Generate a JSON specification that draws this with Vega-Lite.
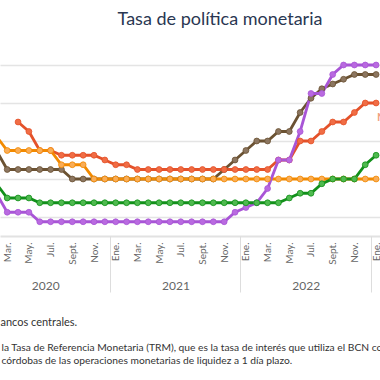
{
  "$schema": "https://vega.github.io/schema/vega-lite/v6.json",
  "width": 380,
  "height": 190,
  "autosize": {"type": "none"},
  "padding": {"left": 0, "top": 46, "right": 0, "bottom": 144},
  "background": "white",
  "title": {"text": "Tasa de política monetaria", "font": "Lato", "fontSize": 18, "fontWeight": "normal", "color": "#2a3752", "anchor": "middle", "frame": "group", "dx": 30, "offset": 3, "baseline": "alphabetic"},
  "config": {"view": {"stroke": null}, "font": "Lato"},
  "data": {"values": [
    {"pais":"República Dominicana","mes":0,"tasa":4.5},{"pais":"República Dominicana","mes":1,"tasa":4.5},
    {"pais":"República Dominicana","mes":2,"tasa":3.5},{"pais":"República Dominicana","mes":3,"tasa":3.5},
    {"pais":"República Dominicana","mes":4,"tasa":3.5},{"pais":"República Dominicana","mes":5,"tasa":3.5},
    {"pais":"República Dominicana","mes":6,"tasa":3.5},{"pais":"República Dominicana","mes":7,"tasa":3.5},
    {"pais":"República Dominicana","mes":8,"tasa":3.0},{"pais":"República Dominicana","mes":9,"tasa":3.0},
    {"pais":"República Dominicana","mes":10,"tasa":3.0},{"pais":"República Dominicana","mes":11,"tasa":3.0},
    {"pais":"República Dominicana","mes":12,"tasa":3.0},{"pais":"República Dominicana","mes":13,"tasa":3.0},
    {"pais":"República Dominicana","mes":14,"tasa":3.0},{"pais":"República Dominicana","mes":15,"tasa":3.0},
    {"pais":"República Dominicana","mes":16,"tasa":3.0},{"pais":"República Dominicana","mes":17,"tasa":3.0},
    {"pais":"República Dominicana","mes":18,"tasa":3.0},{"pais":"República Dominicana","mes":19,"tasa":3.0},
    {"pais":"República Dominicana","mes":20,"tasa":3.0},{"pais":"República Dominicana","mes":21,"tasa":3.0},
    {"pais":"República Dominicana","mes":22,"tasa":3.5},{"pais":"República Dominicana","mes":23,"tasa":4.0},
    {"pais":"República Dominicana","mes":24,"tasa":4.5},{"pais":"República Dominicana","mes":25,"tasa":5.0},
    {"pais":"República Dominicana","mes":26,"tasa":5.0},{"pais":"República Dominicana","mes":27,"tasa":5.5},
    {"pais":"República Dominicana","mes":28,"tasa":5.5},{"pais":"República Dominicana","mes":29,"tasa":6.5},
    {"pais":"República Dominicana","mes":30,"tasa":7.25},{"pais":"República Dominicana","mes":31,"tasa":7.75},
    {"pais":"República Dominicana","mes":32,"tasa":8.0},{"pais":"República Dominicana","mes":33,"tasa":8.25},
    {"pais":"República Dominicana","mes":34,"tasa":8.5},{"pais":"República Dominicana","mes":35,"tasa":8.5},
    {"pais":"República Dominicana","mes":36,"tasa":8.5},

    {"pais":"Nicaragua","mes":3,"tasa":6.0},{"pais":"Nicaragua","mes":4,"tasa":5.5},
    {"pais":"Nicaragua","mes":5,"tasa":4.5},{"pais":"Nicaragua","mes":6,"tasa":4.5},
    {"pais":"Nicaragua","mes":7,"tasa":4.25},{"pais":"Nicaragua","mes":8,"tasa":4.25},
    {"pais":"Nicaragua","mes":9,"tasa":4.25},{"pais":"Nicaragua","mes":10,"tasa":4.25},
    {"pais":"Nicaragua","mes":11,"tasa":4.0},{"pais":"Nicaragua","mes":12,"tasa":3.75},
    {"pais":"Nicaragua","mes":13,"tasa":3.75},{"pais":"Nicaragua","mes":14,"tasa":3.5},
    {"pais":"Nicaragua","mes":15,"tasa":3.5},{"pais":"Nicaragua","mes":16,"tasa":3.5},
    {"pais":"Nicaragua","mes":17,"tasa":3.5},{"pais":"Nicaragua","mes":18,"tasa":3.5},
    {"pais":"Nicaragua","mes":19,"tasa":3.5},{"pais":"Nicaragua","mes":20,"tasa":3.5},
    {"pais":"Nicaragua","mes":21,"tasa":3.5},{"pais":"Nicaragua","mes":22,"tasa":3.5},
    {"pais":"Nicaragua","mes":23,"tasa":3.5},{"pais":"Nicaragua","mes":24,"tasa":3.5},
    {"pais":"Nicaragua","mes":25,"tasa":3.5},{"pais":"Nicaragua","mes":26,"tasa":3.5},
    {"pais":"Nicaragua","mes":27,"tasa":4.0},{"pais":"Nicaragua","mes":28,"tasa":4.0},
    {"pais":"Nicaragua","mes":29,"tasa":5.0},{"pais":"Nicaragua","mes":30,"tasa":5.0},
    {"pais":"Nicaragua","mes":31,"tasa":5.5},{"pais":"Nicaragua","mes":32,"tasa":6.0},
    {"pais":"Nicaragua","mes":33,"tasa":6.0},{"pais":"Nicaragua","mes":34,"tasa":6.5},
    {"pais":"Nicaragua","mes":35,"tasa":7.0},{"pais":"Nicaragua","mes":36,"tasa":7.0},

    {"pais":"Honduras","mes":0,"tasa":5.25},{"pais":"Honduras","mes":1,"tasa":5.25},
    {"pais":"Honduras","mes":2,"tasa":4.5},{"pais":"Honduras","mes":3,"tasa":4.5},
    {"pais":"Honduras","mes":4,"tasa":4.5},{"pais":"Honduras","mes":5,"tasa":4.5},
    {"pais":"Honduras","mes":6,"tasa":4.5},{"pais":"Honduras","mes":7,"tasa":3.75},
    {"pais":"Honduras","mes":8,"tasa":3.75},{"pais":"Honduras","mes":9,"tasa":3.75},
    {"pais":"Honduras","mes":10,"tasa":3.0},{"pais":"Honduras","mes":11,"tasa":3.0},
    {"pais":"Honduras","mes":12,"tasa":3.0},{"pais":"Honduras","mes":13,"tasa":3.0},
    {"pais":"Honduras","mes":14,"tasa":3.0},{"pais":"Honduras","mes":15,"tasa":3.0},
    {"pais":"Honduras","mes":16,"tasa":3.0},{"pais":"Honduras","mes":17,"tasa":3.0},
    {"pais":"Honduras","mes":18,"tasa":3.0},{"pais":"Honduras","mes":19,"tasa":3.0},
    {"pais":"Honduras","mes":20,"tasa":3.0},{"pais":"Honduras","mes":21,"tasa":3.0},
    {"pais":"Honduras","mes":22,"tasa":3.0},{"pais":"Honduras","mes":23,"tasa":3.0},
    {"pais":"Honduras","mes":24,"tasa":3.0},{"pais":"Honduras","mes":25,"tasa":3.0},
    {"pais":"Honduras","mes":26,"tasa":3.0},{"pais":"Honduras","mes":27,"tasa":3.0},
    {"pais":"Honduras","mes":28,"tasa":3.0},{"pais":"Honduras","mes":29,"tasa":3.0},
    {"pais":"Honduras","mes":30,"tasa":3.0},{"pais":"Honduras","mes":31,"tasa":3.0},
    {"pais":"Honduras","mes":32,"tasa":3.0},{"pais":"Honduras","mes":33,"tasa":3.0},
    {"pais":"Honduras","mes":34,"tasa":3.0},{"pais":"Honduras","mes":35,"tasa":3.0},
    {"pais":"Honduras","mes":36,"tasa":3.0},

    {"pais":"Costa Rica","mes":0,"tasa":2.25},{"pais":"Costa Rica","mes":1,"tasa":2.25},
    {"pais":"Costa Rica","mes":2,"tasa":1.25},{"pais":"Costa Rica","mes":3,"tasa":1.25},
    {"pais":"Costa Rica","mes":4,"tasa":1.25},{"pais":"Costa Rica","mes":5,"tasa":0.75},
    {"pais":"Costa Rica","mes":6,"tasa":0.75},{"pais":"Costa Rica","mes":7,"tasa":0.75},
    {"pais":"Costa Rica","mes":8,"tasa":0.75},{"pais":"Costa Rica","mes":9,"tasa":0.75},
    {"pais":"Costa Rica","mes":10,"tasa":0.75},{"pais":"Costa Rica","mes":11,"tasa":0.75},
    {"pais":"Costa Rica","mes":12,"tasa":0.75},{"pais":"Costa Rica","mes":13,"tasa":0.75},
    {"pais":"Costa Rica","mes":14,"tasa":0.75},{"pais":"Costa Rica","mes":15,"tasa":0.75},
    {"pais":"Costa Rica","mes":16,"tasa":0.75},{"pais":"Costa Rica","mes":17,"tasa":0.75},
    {"pais":"Costa Rica","mes":18,"tasa":0.75},{"pais":"Costa Rica","mes":19,"tasa":0.75},
    {"pais":"Costa Rica","mes":20,"tasa":0.75},{"pais":"Costa Rica","mes":21,"tasa":0.75},
    {"pais":"Costa Rica","mes":22,"tasa":0.75},{"pais":"Costa Rica","mes":23,"tasa":1.25},
    {"pais":"Costa Rica","mes":24,"tasa":1.5},{"pais":"Costa Rica","mes":25,"tasa":1.75},
    {"pais":"Costa Rica","mes":26,"tasa":2.5},{"pais":"Costa Rica","mes":27,"tasa":4.0},
    {"pais":"Costa Rica","mes":28,"tasa":4.0},{"pais":"Costa Rica","mes":29,"tasa":5.5},
    {"pais":"Costa Rica","mes":30,"tasa":7.5},{"pais":"Costa Rica","mes":31,"tasa":7.5},
    {"pais":"Costa Rica","mes":32,"tasa":8.5},{"pais":"Costa Rica","mes":33,"tasa":9.0},
    {"pais":"Costa Rica","mes":34,"tasa":9.0},{"pais":"Costa Rica","mes":35,"tasa":9.0},
    {"pais":"Costa Rica","mes":36,"tasa":9.0},

    {"pais":"Guatemala","mes":0,"tasa":2.75},{"pais":"Guatemala","mes":1,"tasa":2.75},
    {"pais":"Guatemala","mes":2,"tasa":2.0},{"pais":"Guatemala","mes":3,"tasa":2.0},
    {"pais":"Guatemala","mes":4,"tasa":2.0},{"pais":"Guatemala","mes":5,"tasa":1.75},
    {"pais":"Guatemala","mes":6,"tasa":1.75},{"pais":"Guatemala","mes":7,"tasa":1.75},
    {"pais":"Guatemala","mes":8,"tasa":1.75},{"pais":"Guatemala","mes":9,"tasa":1.75},
    {"pais":"Guatemala","mes":10,"tasa":1.75},{"pais":"Guatemala","mes":11,"tasa":1.75},
    {"pais":"Guatemala","mes":12,"tasa":1.75},{"pais":"Guatemala","mes":13,"tasa":1.75},
    {"pais":"Guatemala","mes":14,"tasa":1.75},{"pais":"Guatemala","mes":15,"tasa":1.75},
    {"pais":"Guatemala","mes":16,"tasa":1.75},{"pais":"Guatemala","mes":17,"tasa":1.75},
    {"pais":"Guatemala","mes":18,"tasa":1.75},{"pais":"Guatemala","mes":19,"tasa":1.75},
    {"pais":"Guatemala","mes":20,"tasa":1.75},{"pais":"Guatemala","mes":21,"tasa":1.75},
    {"pais":"Guatemala","mes":22,"tasa":1.75},{"pais":"Guatemala","mes":23,"tasa":1.75},
    {"pais":"Guatemala","mes":24,"tasa":1.75},{"pais":"Guatemala","mes":25,"tasa":1.75},
    {"pais":"Guatemala","mes":26,"tasa":1.75},{"pais":"Guatemala","mes":27,"tasa":1.75},
    {"pais":"Guatemala","mes":28,"tasa":2.0},{"pais":"Guatemala","mes":29,"tasa":2.25},
    {"pais":"Guatemala","mes":30,"tasa":2.25},{"pais":"Guatemala","mes":31,"tasa":2.75},
    {"pais":"Guatemala","mes":32,"tasa":3.0},{"pais":"Guatemala","mes":33,"tasa":3.0},
    {"pais":"Guatemala","mes":34,"tasa":3.0},{"pais":"Guatemala","mes":35,"tasa":3.75},
    {"pais":"Guatemala","mes":36,"tasa":4.25}
  ]},
  "layer": [
    {
      "mark": {"type": "line", "strokeWidth": 2.8, "clip": true},
      "encoding": {
        "x": {"field": "mes", "type": "quantitative",
          "scale": {"domain": [1.336, 36.36], "nice": false, "zero": false},
          "axis": {
            "orient": "bottom",
            "values": [2,4,6,8,10,12,14,16,18,20,22,24,26,28,30,32,34,36],
            "labelExpr": "['Ene.','Feb.','Mar.','Abr.','May.','Jun.','Jul.','Ago.','Sept.','Oct.','Nov.','Dic.'][datum.value % 12]",
            "labelAngle": 270, "labelAlign": "right", "labelBaseline": "middle",
            "labelPadding": 6, "labelFontSize": 10, "labelColor": "#666666", "labelFont": "Lato",
            "labelOverlap": false, "labelFlush": false, "labelBound": false,
            "ticks": false, "grid": false,
            "domain": true, "domainColor": "#e2e2e2", "domainWidth": 2,
            "title": "ancos centrales.", "titleX": 0, "titleY": 86, "titleAlign": "left", "titleAnchor": "start",
            "titleBaseline": "middle", "titleFontSize": 11, "titleFontWeight": "normal", "titleColor": "#333333", "titleFont": "Lato"
          }
        },
        "y": {"field": "tasa", "type": "quantitative",
          "scale": {"domain": [0, 10], "nice": false, "zero": true},
          "axis": {"values": [1,2,3,4,5,6,7,8,9,10], "labels": false, "ticks": false, "domain": false, "grid": true,
                   "gridColor": "#e4e4e4", "gridWidth": 1.5, "title": null}
        },
        "stroke": {"field": "pais", "type": "nominal",
          "scale": {"domain": ["República Dominicana","Nicaragua","Honduras","Costa Rica","Guatemala"],
                    "range": ["#6b5232","#e4522a","#f28a00","#a855d6","#12901a"]},
          "legend": null}
      }
    },
    {
      "mark": {"type": "point", "filled": true, "size": 34, "strokeWidth": 0.8, "opacity": 1, "clip": true},
      "encoding": {
        "x": {"field": "mes", "type": "quantitative",
          "axis": {
            "orient": "bottom",
            "values": [11.5, 23.5, 35.5],
            "labelExpr": "datum.value == 11.5 ? '2020' : (datum.value == 23.5 ? '2021' : '2022')",
            "labelOffset": -65, "labelAngle": 0, "labelAlign": "center", "labelBaseline": "top",
            "labelPadding": -12, "labelFontSize": 12, "labelColor": "#666666", "labelFont": "Lato",
            "labelOverlap": false, "labelFlush": false, "labelBound": false,
            "ticks": true, "tickSize": 56, "tickColor": "#dddddd", "tickWidth": 1,
            "grid": false, "domain": false,
            "title": ["la Tasa de Referencia Monetaria (TRM), que es la tasa de interés que utiliza el BCN como", "córdobas de las operaciones monetarias de liquidez a 1 día plazo."],
            "titleX": 1, "titleY": 106, "titleAlign": "left", "titleAnchor": "start", "titleBaseline": "top",
            "titleLineHeight": 13, "titleFontSize": 10.25, "titleFontWeight": "normal", "titleColor": "#333333", "titleFont": "Lato"
          }
        },
        "y": {"field": "tasa", "type": "quantitative"},
        "fill": {"field": "pais", "type": "nominal",
          "scale": {"domain": ["República Dominicana","Nicaragua","Honduras","Costa Rica","Guatemala"],
                    "range": ["#8c7660","#f06d45","#f9ad58","#b96ae0","#4fba4f"]},
          "legend": null},
        "stroke": {"field": "pais", "type": "nominal", "legend": null}
      }
    },
    {
      "transform": [{"filter": "datum.pais == 'Nicaragua' && datum.mes == 36"}],
      "mark": {"type": "text", "align": "left", "baseline": "middle", "dx": 1, "dy": 14, "fontSize": 12, "font": "Lato", "fontWeight": "bold", "color": "#f2a283"},
      "encoding": {
        "x": {"field": "mes", "type": "quantitative", "axis": null},
        "y": {"field": "tasa", "type": "quantitative"},
        "text": {"field": "pais", "type": "nominal"}
      }
    }
  ],
  "resolve": {"axis": {"x": "independent"}}
}
